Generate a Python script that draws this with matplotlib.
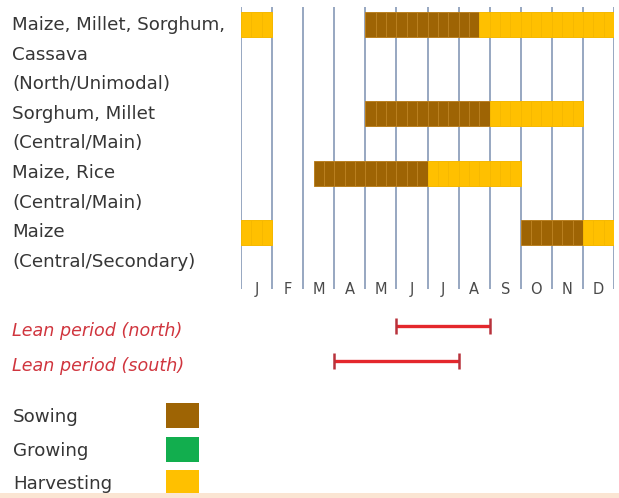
import matplotlib
matplotlib.use('Agg')
import matplotlib.pyplot as plt
from matplotlib.patches import Rectangle
import matplotlib.transforms as mtransforms

# ---------------- data ----------------
months = ['J', 'F', 'M', 'A', 'M', 'J', 'J', 'A', 'S', 'O', 'N', 'D']
crop_labels = [
    ['Maize, Millet, Sorghum,', 'Cassava', '(North/Unimodal)'],
    ['Sorghum, Millet', '(Central/Main)'],
    ['Maize, Rice', '(Central/Main)'],
    ['Maize', '(Central/Secondary)'],
]
# stages given in dekads (3 per month), start inclusive / end exclusive
sowing_dekads = [[(12, 23)], [(12, 24)], [(7, 18)], [(27, 33)]]
harvest_dekads = [[(0, 3), (23, 36)], [(24, 33)], [(18, 27)], [(0, 3), (33, 36)]]
lean_labels = ['Lean period (north)', 'Lean period (south)']
lean_start = [5, 3]   # month index (start of month)
lean_end = [8, 7]
legend_labels = ['Sowing', 'Growing', 'Harvesting']

# ---------------- style ----------------
W, H = 619, 498
SOW = '#9E6404'
SOW_EDGE = '#BA8020'
GROW = '#12AE4E'
HARV = '#FFC000'
HARV_EDGE = '#F6B800'
GRID = '#8FA0BC'
TXT = '#363636'
RED = '#E4272C'
RED_CAP = '#B8323C'
legend_colors = [SOW, GROW, HARV]

plt.rcParams['font.family'] = ['DejaVu Sans']

fig = plt.figure(figsize=(W / 100, H / 100), dpi=100)
fig.patch.set_facecolor('white')
renderer = fig.canvas.get_renderer()


def fit_size(text, target_px, **kw):
    t = fig.text(0, 0, text, fontsize=10, **kw)
    w = t.get_window_extent(renderer).width
    t.remove()
    return 10 * target_px / w


def fx(px):
    return px / W


def fy(py):
    return 1 - py / H


FS_LAB = fit_size('Maize, Millet, Sorghum,', 214)
FS_LEAN = fit_size('Lean period (north)', 170, style='italic')

# main calendar axes (pixel rows 5..293, columns 241..614)
LINE = 29.6   # pixel spacing of label lines
Y0 = 25.0     # pixel y of first line
top_px, bot_px = 5, 295
ax = fig.add_axes([fx(241), fy(bot_px), fx(614) - fx(241), (bot_px - top_px) / H])
ax.set_xlim(0, 12)
ax.set_ylim((bot_px - Y0) / LINE, (top_px - Y0) / LINE)
ax.axis('off')

# month grid lines
ax.vlines(range(13), (top_px + 2 - Y0) / LINE, (bot_px - 6 - Y0) / LINE,
          color=GRID, lw=1.3, zorder=1)

# rows
row_pos = []
k = 0
for lab in crop_labels:
    row_pos.append(k)
    k += len(lab)

bar_h = 25 / LINE
for i, y in enumerate(row_pos):
    for (s, e) in sowing_dekads[i]:
        for d in range(s, e):
            ax.bar(d / 3, bar_h, width=1 / 3, bottom=y - bar_h / 2, align='edge',
                   color=SOW, edgecolor=SOW_EDGE, lw=0.7, zorder=2)
    for (s, e) in harvest_dekads[i]:
        for d in range(s, e):
            ax.bar(d / 3, bar_h, width=1 / 3, bottom=y - bar_h / 2, align='edge',
                   color=HARV, edgecolor=HARV_EDGE, lw=0.7, zorder=2)

# crop labels
trans = mtransforms.blended_transform_factory(fig.transFigure, ax.transData)
for i, lab in enumerate(crop_labels):
    for j, line in enumerate(lab):
        ax.text(fx(12), row_pos[i] + j, line, transform=trans, ha='left', va='center',
                fontsize=FS_LAB, color=TXT, clip_on=False)

# month labels
for m, name in enumerate(months):
    ax.text(m + 0.5, (289 - Y0) / LINE, name, ha='center', va='center',
            fontsize=10.5, color='#4A4A4A', clip_on=False)

# lean period axes
l_top, l_bot = 306, 381
L0, LSP = 326, 35
ax2 = fig.add_axes([fx(241), fy(l_bot), fx(614) - fx(241), (l_bot - l_top) / H])
ax2.set_xlim(0, 12)
ax2.set_ylim((l_bot - L0) / LSP, (l_top - L0) / LSP)
ax2.axis('off')
for i in range(len(lean_labels)):
    ax2.hlines(i, lean_start[i], lean_end[i], color=RED, lw=2.4, zorder=2)
    ax2.vlines([lean_start[i], lean_end[i]], i - 0.23, i + 0.23, color=RED_CAP, lw=1.8, zorder=3)
    fig.text(fx(12), fy(L0 + 5 + i * LSP), lean_labels[i], ha='left', va='center',
             fontsize=FS_LEAN, color='#D0353E', style='italic')

# legend
leg_y = [403, 437, 470]
for i, lab in enumerate(legend_labels):
    fig.patches.append(Rectangle((fx(166), fy(leg_y[i] + 25)), fx(33), 25 / H,
                                 transform=fig.transFigure, facecolor=legend_colors[i],
                                 edgecolor='none'))
    fig.text(fx(13), fy(leg_y[i] + 14), lab, ha='left', va='center',
             fontsize=FS_LAB, color=TXT)

# faint peach strip at bottom
fig.patches.append(Rectangle((0, 0), 1, 5 / H, transform=fig.transFigure,
                             facecolor='#FBE5D3', edgecolor='none'))

fig.savefig('out.png', dpi=100)
